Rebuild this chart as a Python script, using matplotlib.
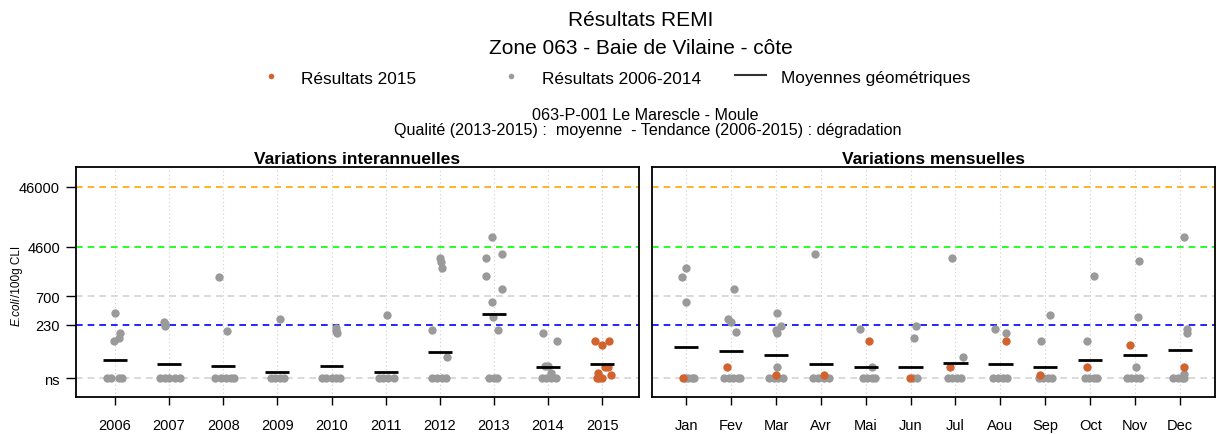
import matplotlib
matplotlib.use("Agg")
import matplotlib.pyplot as plt
from matplotlib.lines import Line2D

plt.rcParams['font.family'] = ['Liberation Sans', 'DejaVu Sans']

NS = 30  # level at which non significant results are drawn

# thresholds (E.coli / 100g CLI)
seuils = [46000, 4600, 700, 230, NS]
seuil_colors = ['#FFA500', '#00FF00', '#D3D3D3', '#0000FF', '#D3D3D3']

ytick_vals = [NS, 230, 700, 4600, 46000]
ytick_labels = ['ns', '230', '700', '4600', '46000']

# ---- interannual data: (jitter, value) per year ----
annees = ['2006', '2007', '2008', '2009', '2010', '2011', '2012', '2013', '2014', '2015']
res_annees = [
    [(0.0, 370), (-0.01, 126), (0.08, 140), (0.10, 172),
     (-0.14, NS), (-0.08, NS), (0.07, NS), (0.13, NS)],
    [(-0.10, 262), (-0.08, 240), (-0.07, 224),
     (-0.17, NS), (-0.08, NS), (0.0, NS), (0.1, NS), (0.2, NS)],
    [(-0.07, 1455), (0.07, 181),
     (-0.15, NS), (-0.05, NS), (0.05, NS), (0.15, NS), (0.2, NS)],
    [(0.04, 287),
     (-0.12, NS), (-0.04, NS), (0.04, NS), (0.12, NS)],
    [(0.09, 206), (0.09, 185), (0.1, 170),
     (-0.18, NS), (-0.1, NS), (0.0, NS), (0.08, NS), (0.16, NS)],
    [(0.02, 335),
     (-0.13, NS), (-0.04, NS), (0.05, NS), (0.15, NS)],
    [(0.0, 3000), (0.03, 2600), (0.05, 2050), (-0.14, 190), (0.13, 68),
     (-0.15, NS), (-0.05, NS), (0.05, NS), (0.12, NS)],
    [(-0.03, 6760), (-0.14, 2985), (0.15, 3476), (-0.14, 1515), (0.15, 919),
     (-0.03, 557), (-0.01, 310), (0.07, 190),
     (-0.1, NS), (0.0, NS), (0.06, NS)],
    [(-0.09, 172), (0.16, 126), (0.0, 48), (0.05, 37), (-0.05, 48),
     (-0.12, NS), (-0.03, NS), (0.05, NS), (0.15, NS)],
    [(-0.14, 126), (-0.01, 108), (0.13, 126), (0.05, 45), (0.1, 45),
     (-0.07, 37), (0.16, 34), (-0.1, NS), (-0.05, NS), (0.0, NS)],
]
moy_annees = [61, 52, 48, 38, 48, 38, 83, 356, 45, 52]

# ---- monthly data: 2006-2014 (gray) and 2015 (orange) ----
mois = ['Jan', 'Fev', 'Mar', 'Avr', 'Mai', 'Jun', 'Jul', 'Aou', 'Sep', 'Oct', 'Nov', 'Dec']
res_mois_old = [
    [(-0.01, 2055), (-0.1, 1455), (-0.01, 557), (-0.02, NS), (0.05, NS), (0.12, NS), (0.18, NS)],
    [(0.07, 919), (-0.06, 287), (-0.01, 256), (0.12, 178),
     (-0.15, NS), (-0.05, NS), (0.05, NS), (0.15, NS), (0.2, NS)],
    [(0.03, 366), (0.12, 222), (0.0, 188), (0.03, 168), (0.03, 45),
     (-0.15, NS), (-0.05, NS), (0.05, NS), (0.15, NS)],
    [(-0.13, 3476), (-0.18, NS), (-0.06, NS), (0.06, NS), (0.18, NS)],
    [(-0.13, 198), (0.13, 45), (-0.07, NS), (0.03, NS), (0.13, NS), (0.2, NS)],
    [(0.13, 222), (0.08, 138), (0.05, NS), (0.15, NS)],
    [(-0.08, 2985), (0.16, 68), (-0.17, NS), (-0.07, NS), (0.03, NS), (0.13, NS)],
    [(-0.11, 198), (0.13, 170), (-0.17, NS), (-0.06, NS), (0.05, NS), (0.15, NS)],
    [(0.1, 335), (-0.1, 126), (-0.15, NS), (-0.05, NS), (0.05, NS), (0.15, NS)],
    [(0.08, 1515), (-0.07, 126), (-0.12, NS), (-0.02, NS), (0.08, NS), (0.15, NS)],
    [(0.09, 2700), (0.07, 317), (0.01, 45), (-0.18, NS), (-0.08, NS), (0.02, NS), (0.12, NS)],
    [(0.1, 6760), (0.16, 197), (0.16, 170), (0.1, 35),
     (-0.15, NS), (-0.05, NS), (0.05, NS), (0.1, NS)],
]
res_mois_2015 = [
    [(-0.07, NS)], [(-0.1, 45)], [(0.01, 34)], [(0.07, 34)], [(0.07, 126)], [(-0.02, NS)],
    [(-0.13, 45)], [(0.13, 126)], [(-0.11, 34)], [(-0.07, 45)], [(-0.11, 108)], [(0.08, 45)],
]
moy_mois = [100, 85, 73, 52, 45, 45, 54, 52, 45, 60, 73, 88]

ORANGE = '#D2622E'
GRAY = '#9A9A9A'
MS = 6

fig = plt.figure(figsize=(12.16, 4.35), dpi=100)
ax1 = fig.add_axes([76 / 1216, 1 - 398 / 435, 563 / 1216, 230 / 435])
ax2 = fig.add_axes([652 / 1216, 1 - 398 / 435, 563 / 1216, 230 / 435])


def habillage(ax, labels, pad_left, pad_right):
    n = len(labels)
    ax.set_yscale('log')
    ax.set_ylim(14.5, 99000)
    ax.set_xlim(-pad_left, n - 1 + pad_right)
    for x in range(n):
        ax.axvline(x, color='#CFCFCF', lw=0.8, ls=(0, (1, 2.5)), zorder=0)
    for s, c in zip(seuils, seuil_colors):
        ax.axhline(s, color=c, lw=1.2, ls=(0, (4, 3)), zorder=1)
    ax.set_xticks(range(n))
    ax.set_xticklabels(labels, fontsize=10.5)
    ax.tick_params(axis='x', length=6, width=1, pad=9)
    ax.minorticks_off()
    for sp in ax.spines.values():
        sp.set_linewidth(1.3)


def points(ax, groupes, color):
    for i, grp in enumerate(groupes):
        xs = [i + dx for dx, v in grp]
        ys = [v for dx, v in grp]
        ax.plot(xs, ys, 'o', color=color, ms=MS, mec='none', zorder=3)


# interannual panel
habillage(ax1, annees, 0.72, 0.68)
points(ax1, res_annees[:-1], GRAY)
ax1.plot([9 + dx for dx, v in res_annees[-1]], [v for dx, v in res_annees[-1]],
         'o', color=ORANGE, ms=MS, mec='none', zorder=3)
ax1.hlines(moy_annees, [i - 0.22 for i in range(10)], [i + 0.22 for i in range(10)],
           color='black', lw=2, zorder=4)
ax1.set_yticks(ytick_vals)
ax1.set_yticklabels(ytick_labels, fontsize=10.5)
ax1.tick_params(axis='y', length=7, width=1, pad=4.5)
ax1.minorticks_off()
ax1.set_title('Variations interannuelles', fontsize=12.5, fontweight='bold', pad=3)

# monthly panel
habillage(ax2, mois, 0.76, 0.78)
points(ax2, res_mois_old, GRAY)
points(ax2, res_mois_2015, ORANGE)
ax2.hlines(moy_mois, [i - 0.27 for i in range(12)], [i + 0.27 for i in range(12)],
           color='black', lw=2, zorder=4)
ax2.set_yticks([])
ax2.minorticks_off()
ax2.set_title('Variations mensuelles', fontsize=12.5, fontweight='bold', pad=3)

# y label: italic species name followed by the unit
ylab_x = 17 / 1216
ylab_y0 = 1 - 326 / 435
t1 = fig.text(ylab_x, ylab_y0, 'E.coli', rotation=90, style='italic',
              ha='center', va='bottom', fontsize=8.5)
fig.canvas.draw()
h1 = t1.get_window_extent().height / fig.bbox.height
fig.text(ylab_x, ylab_y0 + h1, '/100g CLI', rotation=90,
         ha='center', va='bottom', fontsize=8.5)

# titles
fig.text(641 / 1216, 1 - 21 / 435, 'Résultats REMI', ha='center', va='center', fontsize=15)
fig.text(641 / 1216, 1 - 48 / 435, 'Zone 063 - Baie de Vilaine - côte',
         ha='center', va='center', fontsize=15)
fig.text(645 / 1216, 1 - 116 / 435, '063-P-001 Le Marescle - Moule',
         ha='center', va='center', fontsize=11.6)
fig.text(648 / 1216, 1 - 131 / 435,
         'Qualité (2013-2015) :  moyenne  - Tendance (2006-2015) : dégradation',
         ha='center', va='center', fontsize=11.6)

# legend row
ly = 1 - 77 / 435
fig.add_artist(Line2D([271 / 1216], [ly], marker='o', color=ORANGE, ms=4, mec='none'))
fig.text(301 / 1216, 1 - 79 / 435, 'Résultats 2015', va='center', fontsize=12.4)
fig.add_artist(Line2D([511 / 1216], [ly], marker='o', color=GRAY, ms=4, mec='none'))
fig.text(542 / 1216, 1 - 79 / 435, 'Résultats 2006-2014', va='center', fontsize=12.4)
fig.add_artist(Line2D([735 / 1216, 766 / 1216], [1 - 76 / 435] * 2, color='#333333', lw=1.5))
fig.text(781 / 1216, 1 - 79 / 435, 'Moyennes géométriques', va='center', fontsize=12.4)

fig.savefig('out.png', dpi=100)
